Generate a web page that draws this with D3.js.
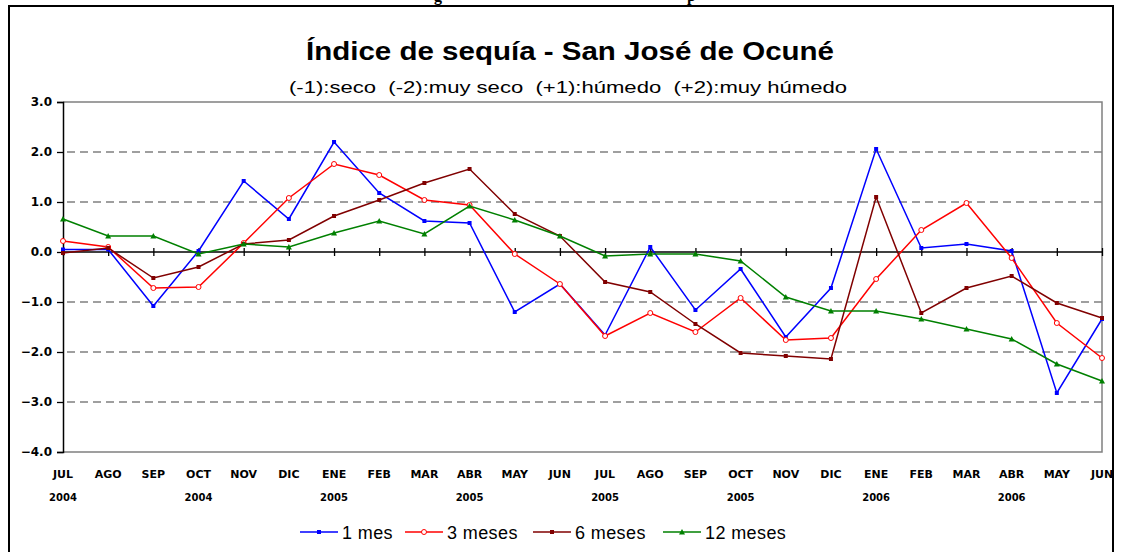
<!DOCTYPE html>
<html>
<body>

<script src="https://d3js.org/d3.v7.min.js"></script>
<style>
  body {
    margin: 0;
    background: #fff;
    font-family: "Liberation Sans", Arial, sans-serif;
  }

  .grid line {
    stroke: #808080;
    stroke-dasharray: 8px 5px;
    stroke-width: 1.3px;
  }

  .y-axis text, .x-axis text {
    font-weight: bold;
    fill: #000;
  }

  .legend text {
    font-size: 18px;
    letter-spacing: 0.4px;
  }
</style>

<script>
  // datos
  var months = ["JUL","AGO","SEP","OCT","NOV","DIC","ENE","FEB","MAR","ABR","MAY","JUN",
                "JUL","AGO","SEP","OCT","NOV","DIC","ENE","FEB","MAR","ABR","MAY","JUN"];
  var years = ["2004","","","2004","","","2005","","","2005","","",
               "2005","","","2005","","","2006","","","2006","",""];
  var yTicks = [3, 2, 1, 0, -1, -2, -3, -4];

  var mes1 = [0.05, 0.05, -1.08, 0.02, 1.42, 0.66, 2.2, 1.18, 0.62, 0.58, -1.2, -0.64,
              -1.66, 0.1, -1.16, -0.34, -1.7, -0.72, 2.06, 0.08, 0.16, 0.02, -2.82, -1.34];
  var mes3 = [0.22, 0.1, -0.72, -0.7, 0.18, 1.08, 1.76, 1.54, 1.04, 0.94, -0.04, -0.64,
              -1.68, -1.22, -1.6, -0.92, -1.76, -1.72, -0.54, 0.44, 0.98, -0.12, -1.42, -2.12];
  var mes6 = [-0.02, 0.08, -0.52, -0.3, 0.16, 0.24, 0.72, 1.04, 1.38, 1.66, 0.76, 0.32,
              -0.6, -0.8, -1.44, -2.02, -2.08, -2.14, 1.1, -1.22, -0.72, -0.48, -1.02, -1.32];
  var mes12 = [0.66, 0.32, 0.32, -0.04, 0.16, 0.1, 0.38, 0.62, 0.36, 0.92, 0.64, 0.32,
               -0.08, -0.04, -0.04, -0.18, -0.9, -1.18, -1.18, -1.34, -1.54, -1.74, -2.24, -2.58];

  var series = [
    {name: "1 mes", values: mes1, color: "#0000ff", marker: "square"},
    {name: "3 meses", values: mes3, color: "#ff0000", marker: "circle"},
    {name: "6 meses", values: mes6, color: "#800000", marker: "square"},
    {name: "12 meses", values: mes12, color: "#008000", marker: "triangle"}
  ];

  var W = 1125, H = 552;
  var plot = {left: 63, right: 1102, top: 102, bottom: 452};

  var svg = d3.select("body").append("svg")
      .attr("width", W)
      .attr("height", H);

  // recorte del texto del documento
  svg.append("text").attr("x", 434).attr("y", 1).text("g")
      .style("font-family", "Liberation Serif").style("font-weight", "bold").style("font-size", "16px");
  svg.append("text").attr("x", 687).attr("y", 1).text("p")
      .style("font-family", "Liberation Serif").style("font-weight", "bold").style("font-size", "16px");

  // marco
  svg.append("path")
      .attr("d", `M9,${H + 2} V6 H1113 V${H + 2}`)
      .attr("fill", "none")
      .attr("stroke", "#000")
      .attr("stroke-width", 2);

  var x = d3.scalePoint()
      .domain(d3.range(months.length))
      .range([plot.left, plot.right]);

  var y = d3.scaleLinear()
      .domain([-4, 3])
      .range([plot.bottom, plot.top]);

  // titulo
  svg.append("text")
      .attr("x", 570).attr("y", 60)
      .attr("text-anchor", "middle")
      .attr("textLength", 528)
      .attr("lengthAdjust", "spacingAndGlyphs")
      .style("font-size", "26px")
      .style("font-weight", "bold")
      .text("Índice de sequía - San José de Ocuné");

  svg.append("text")
      .attr("x", 568).attr("y", 93)
      .attr("text-anchor", "middle")
      .attr("textLength", 558)
      .attr("lengthAdjust", "spacingAndGlyphs")
      .attr("xml:space", "preserve")
      .style("font-size", "17px")
      .text("(-1):seco  (-2):muy seco  (+1):húmedo  (+2):muy húmedo");

  // rejilla
  svg.append("g")
      .attr("class", "grid")
    .selectAll("line")
    .data(yTicks.filter(d => d != 0 && d != 3 && d != -4))
    .enter().append("line")
      .attr("x1", plot.left + 4).attr("x2", plot.right)
      .attr("y1", d => y(d)).attr("y2", d => y(d));

  // borde del area
  svg.append("path")
      .attr("d", `M${plot.left},${plot.top} H${plot.right} V${plot.bottom} H${plot.left}`)
      .attr("fill", "none")
      .attr("stroke", "#808080")
      .attr("stroke-width", 1.5);

  // eje y
  var yAxis = svg.append("g")
      .attr("class", "y-axis")
      .attr("transform", `translate(${plot.left},0)`)
      .call(d3.axisLeft(y).tickValues(yTicks).tickSize(6).tickPadding(5).tickFormat(d3.format(".1f")));
  yAxis.select(".domain").attr("stroke", "#000").attr("stroke-width", 1.5);
  yAxis.selectAll(".tick line").attr("stroke-width", 1.3);
  yAxis.selectAll("text").style("font-size", "12px").style("font-family", "DejaVu Sans");

  // eje x en cero
  var xAxis = svg.append("g")
      .attr("class", "x-axis")
      .attr("transform", `translate(0,${y(0)})`)
      .call(d3.axisBottom(x).tickSize(4).tickFormat(""));
  xAxis.select(".domain").attr("stroke", "#000").attr("stroke-width", 1.5).attr("d", `M${plot.left},0H${plot.right}`);
  xAxis.selectAll(".tick line").attr("y1", -4).attr("y2", 4).attr("stroke-width", 1.3);

  // etiquetas del eje x
  var labels = svg.append("g").attr("class", "x-axis");
  labels.selectAll(".mes")
      .data(months)
    .enter().append("text")
      .attr("class", "mes")
      .attr("x", (d, i) => x(i))
      .attr("y", 478)
      .attr("text-anchor", "middle")
      .style("font-size", "11px")
      .style("font-family", "DejaVu Sans")
      .text(d => d);
  labels.selectAll(".anio")
      .data(years)
    .enter().append("text")
      .attr("class", "anio")
      .attr("x", (d, i) => x(i))
      .attr("y", 501)
      .attr("text-anchor", "middle")
      .style("font-size", "10px")
      .style("font-family", "DejaVu Sans")
      .text(d => d);

  var line = d3.line()
      .x((d, i) => x(i))
      .y(d => y(d));

  function drawMarker(g, type, color) {
    if (type == "square") {
      g.append("rect").attr("x", -2).attr("y", -2).attr("width", 4).attr("height", 4).attr("fill", color);
    } else if (type == "circle") {
      g.append("circle").attr("r", 2.5).attr("fill", "#fff").attr("stroke", color).attr("stroke-width", 1);
    } else {
      g.append("path").attr("d", "M0,-3L3,2.5H-3Z").attr("fill", color);
    }
  }

  series.forEach(function(s) {
    svg.append("path")
        .datum(s.values)
        .attr("fill", "none")
        .attr("stroke", s.color)
        .attr("stroke-width", 1.5)
        .attr("d", line);

    svg.append("g").selectAll("g")
        .data(s.values)
      .enter().append("g")
        .attr("transform", (d, i) => `translate(${x(i)},${y(d)})`)
        .each(function() { drawMarker(d3.select(this), s.marker, s.color); });
  });

  // leyenda
  var legendX = [300, 405, 533, 663];
  var legend = svg.append("g").attr("class", "legend");
  series.forEach(function(s, i) {
    var g = legend.append("g").attr("transform", `translate(${legendX[i]},532)`);
    g.append("line").attr("x1", 0).attr("x2", 38).attr("stroke", s.color).attr("stroke-width", 1.5);
    drawMarker(g.append("g").attr("transform", "translate(19,0)"), s.marker, s.color);
    g.append("text").attr("x", 42).attr("y", 6.5).text(s.name);
  });

</script>
</body>
</html>
